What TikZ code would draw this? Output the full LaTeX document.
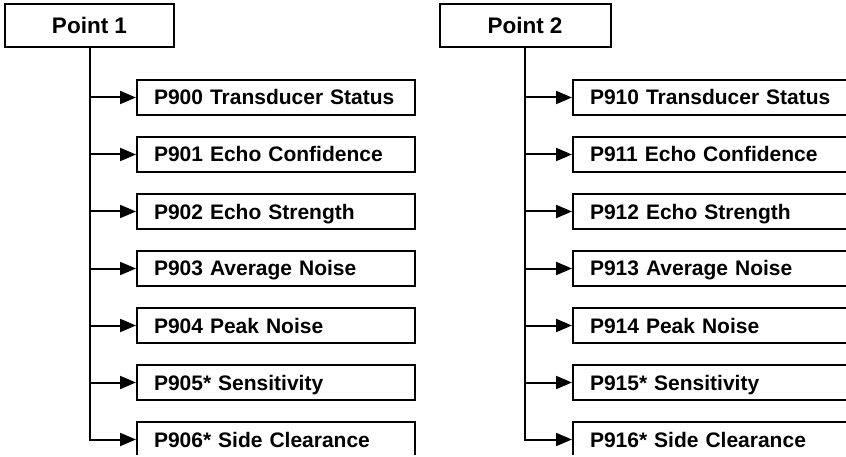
\documentclass[tikz,border=0pt]{standalone}
\usepackage{fontspec}
\setmainfont{Liberation Sans}
\usepackage{tikz}
\usetikzlibrary{arrows.meta,positioning}

\begin{document}
\begin{tikzpicture}[
    x=1pt, y=-1pt,
    font=\fontsize{21}{25}\selectfont\bfseries,
    pointbox/.style={draw, line width=2pt, minimum width=169pt, minimum height=43pt, inner sep=0pt, font=\fontsize{22.5}{26}\selectfont\bfseries},
    parambox/.style={draw, line width=2pt, anchor=west, text width=244pt, align=left, inner xsep=17pt, inner ysep=0pt, text height=15pt, text depth=0pt, minimum height=35pt},
    arrow/.style={-{Triangle[length=16pt, width=13pt]}, line width=2pt}
]
\useasboundingbox (0,0) rectangle (846,457);
\clip (0,0) rectangle (846,454);

% Point 1
\node[pointbox] (pt1) at (89.5,25.5) {Point 1};
\node[parambox] (p900) at (136,97.5) {P900 Transducer Status};
\node[parambox, below=20pt of p900] (p901) {P901 Echo Confidence};
\node[parambox, below=20pt of p901] (p902) {P902 Echo Strength};
\node[parambox, below=20pt of p902] (p903) {P903 Average Noise};
\node[parambox, below=20pt of p903] (p904) {P904 Peak Noise};
\node[parambox, below=20pt of p904] (p905) {P905* Sensitivity};
\node[parambox, below=20pt of p905] (p906) {P906* Side Clearance};

\draw[arrow] (pt1.south) |- (p900.west);
\draw[arrow] (pt1.south) |- (p901.west);
\draw[arrow] (pt1.south) |- (p902.west);
\draw[arrow] (pt1.south) |- (p903.west);
\draw[arrow] (pt1.south) |- (p904.west);
\draw[arrow] (pt1.south) |- (p905.west);
\draw[arrow] (pt1.south) |- (p906.west);

% Point 2
\node[pointbox, minimum width=171pt] (pt2) at (525,25.5) {Point 2};
\node[parambox] (p910) at (572,97.5) {P910 Transducer Status};
\node[parambox, below=20pt of p910] (p911) {P911 Echo Confidence};
\node[parambox, below=20pt of p911] (p912) {P912 Echo Strength};
\node[parambox, below=20pt of p912] (p913) {P913 Average Noise};
\node[parambox, below=20pt of p913] (p914) {P914 Peak Noise};
\node[parambox, below=20pt of p914] (p915) {P915* Sensitivity};
\node[parambox, below=20pt of p915] (p916) {P916* Side Clearance};

\draw[arrow] (pt2.south) |- (p910.west);
\draw[arrow] (pt2.south) |- (p911.west);
\draw[arrow] (pt2.south) |- (p912.west);
\draw[arrow] (pt2.south) |- (p913.west);
\draw[arrow] (pt2.south) |- (p914.west);
\draw[arrow] (pt2.south) |- (p915.west);
\draw[arrow] (pt2.south) |- (p916.west);
\end{tikzpicture}
\end{document}
